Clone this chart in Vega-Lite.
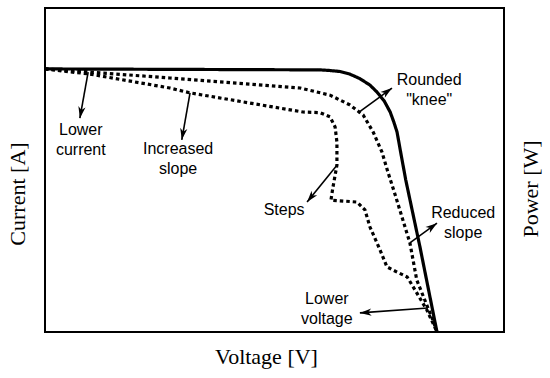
{
  "$schema": "https://vega.github.io/schema/vega-lite/v6.json",
  "width": 459,
  "height": 324,
  "autosize": {"type": "none"},
  "padding": {"left": 45, "top": 8, "right": 46, "bottom": 46},
  "background": "white",
  "config": {
    "view": {"stroke": "black", "strokeWidth": 2},
    "axis": {"domain": false, "ticks": false, "labels": false, "grid": false, "titleFont": "Liberation Serif", "titleFontSize": 22, "titleFontWeight": "normal", "titleColor": "black"}
  },
  "datasets": {
    "curves": [
      {"curve": "ideal", "k": 0, "v": 0, "i": 81.2},
      {"curve": "ideal", "k": 1, "v": 59.9, "i": 80.9},
      {"curve": "ideal", "k": 2, "v": 62.1, "i": 80.7},
      {"curve": "ideal", "k": 3, "v": 64.3, "i": 80.4},
      {"curve": "ideal", "k": 4, "v": 66.4, "i": 79.6},
      {"curve": "ideal", "k": 5, "v": 68.6, "i": 78.2},
      {"curve": "ideal", "k": 6, "v": 70.8, "i": 76.2},
      {"curve": "ideal", "k": 7, "v": 72.3, "i": 74.1},
      {"curve": "ideal", "k": 8, "v": 73.9, "i": 71.3},
      {"curve": "ideal", "k": 9, "v": 75.2, "i": 67.9},
      {"curve": "ideal", "k": 10, "v": 76.0, "i": 64.8},
      {"curve": "ideal", "k": 11, "v": 76.7, "i": 61.7},
      {"curve": "ideal", "k": 12, "v": 77.6, "i": 54.6},
      {"curve": "ideal", "k": 13, "v": 78.6, "i": 46.9},
      {"curve": "ideal", "k": 14, "v": 81.7, "i": 26.2},
      {"curve": "ideal", "k": 15, "v": 85.4, "i": 0},
      {"curve": "shaded", "k": 0, "v": 0, "i": 81.2},
      {"curve": "shaded", "k": 1, "v": 9.8, "i": 80.2},
      {"curve": "shaded", "k": 2, "v": 27.2, "i": 78.4},
      {"curve": "shaded", "k": 3, "v": 55.6, "i": 75.3},
      {"curve": "shaded", "k": 4, "v": 62.1, "i": 73.1},
      {"curve": "shaded", "k": 5, "v": 66.4, "i": 70.1},
      {"curve": "shaded", "k": 6, "v": 69.3, "i": 67.0},
      {"curve": "shaded", "k": 7, "v": 71.5, "i": 61.7},
      {"curve": "shaded", "k": 8, "v": 73.4, "i": 55.6},
      {"curve": "shaded", "k": 9, "v": 74.7, "i": 49.4},
      {"curve": "shaded", "k": 10, "v": 76.3, "i": 42.3},
      {"curve": "shaded", "k": 11, "v": 79.5, "i": 27.5},
      {"curve": "shaded", "k": 12, "v": 81.0, "i": 16.0},
      {"curve": "shaded", "k": 13, "v": 84.5, "i": 3.7},
      {"curve": "shaded", "k": 14, "v": 85.4, "i": 0},
      {"curve": "mismatch", "k": 0, "v": 0, "i": 81.2},
      {"curve": "mismatch", "k": 1, "v": 9.8, "i": 79.6},
      {"curve": "mismatch", "k": 2, "v": 27.2, "i": 75.3},
      {"curve": "mismatch", "k": 3, "v": 31.6, "i": 73.8},
      {"curve": "mismatch", "k": 4, "v": 56.2, "i": 67.9},
      {"curve": "mismatch", "k": 5, "v": 59.9, "i": 67.7},
      {"curve": "mismatch", "k": 6, "v": 62.1, "i": 66.4},
      {"curve": "mismatch", "k": 7, "v": 63.2, "i": 63.3},
      {"curve": "mismatch", "k": 8, "v": 63.6, "i": 58.6},
      {"curve": "mismatch", "k": 9, "v": 63.6, "i": 51.5},
      {"curve": "mismatch", "k": 10, "v": 62.7, "i": 44.4},
      {"curve": "mismatch", "k": 11, "v": 62.3, "i": 40.7},
      {"curve": "mismatch", "k": 12, "v": 68.0, "i": 40.1},
      {"curve": "mismatch", "k": 13, "v": 69.7, "i": 37.7},
      {"curve": "mismatch", "k": 14, "v": 70.8, "i": 32.4},
      {"curve": "mismatch", "k": 15, "v": 73.0, "i": 25.3},
      {"curve": "mismatch", "k": 16, "v": 74.5, "i": 20.1},
      {"curve": "mismatch", "k": 17, "v": 76.7, "i": 18.5},
      {"curve": "mismatch", "k": 18, "v": 78.9, "i": 17.0},
      {"curve": "mismatch", "k": 19, "v": 80.6, "i": 13.0},
      {"curve": "mismatch", "k": 20, "v": 83.2, "i": 6.8},
      {"curve": "mismatch", "k": 21, "v": 85.4, "i": 0}
    ],
    "arrows": [
      {"name": "Lower current", "x1": 9.4, "y1": 80.2, "x2": 7.6, "y2": 66.0},
      {"name": "Increased slope", "x1": 31.6, "y1": 73.8, "x2": 29.8, "y2": 59.3},
      {"name": "Rounded knee", "x1": 68.2, "y1": 67.6, "x2": 75.6, "y2": 75.3},
      {"name": "Steps", "x1": 63.6, "y1": 51.5, "x2": 57.1, "y2": 40.1},
      {"name": "Reduced slope", "x1": 79.5, "y1": 27.5, "x2": 85.4, "y2": 33.6},
      {"name": "Lower voltage", "x1": 83.4, "y1": 7.4, "x2": 68.6, "y2": 5.9}
    ],
    "labels": [
      {"label": "Lower\ncurrent", "tx": 7.8, "ty": 62.3},
      {"label": "Increased\nslope", "tx": 29.0, "ty": 56.6},
      {"label": "Rounded\n\"knee\"", "tx": 83.7, "ty": 77.8},
      {"label": "Steps", "tx": 52.1, "ty": 37.7},
      {"label": "Reduced\nslope", "tx": 91.1, "ty": 36.6},
      {"label": "Lower\nvoltage", "tx": 61.4, "ty": 10.2}
    ]
  },
  "layer": [
    {
      "data": {"name": "curves"},
      "mark": {"type": "line", "strokeWidth": 3.2, "color": "black", "strokeCap": "butt"},
      "encoding": {
        "x": {"field": "v", "type": "quantitative", "scale": {"domain": [0, 100], "nice": false, "zero": false},
              "axis": {"title": "Voltage [V]", "titleX": 221, "titleY": 31, "titleBaseline": "alphabetic", "titleAlign": "center", "titleAnchor": null}},
        "y": {"field": "i", "type": "quantitative", "scale": {"domain": [0, 100], "nice": false},
              "axis": {"title": "Current [A]", "titleAngle": -90, "titleX": -20.5, "titleY": 185.5, "titleBaseline": "alphabetic", "titleAlign": "center", "titleAnchor": null}},
        "strokeDash": {"field": "curve", "type": "nominal", "scale": {"domain": ["ideal", "shaded", "mismatch"], "range": [[1, 0], [3.5, 3], [3.5, 3]]}, "legend": null},
        "detail": {"field": "curve", "type": "nominal"},
        "order": {"field": "k", "type": "quantitative"}
      }
    },
    {
      "data": {"name": "arrows"},
      "mark": {"type": "rule", "strokeWidth": 1.6, "color": "black"},
      "encoding": {
        "x": {"field": "x1", "type": "quantitative"},
        "y": {"field": "y1", "type": "quantitative",
              "axis": {"orient": "right", "title": "Power [W]", "titleAngle": -90, "titleX": 33, "titleY": 180.5, "titleBaseline": "alphabetic", "titleAlign": "center", "titleAnchor": null}},
        "x2": {"field": "x2"},
        "y2": {"field": "y2"}
      }
    },
    {
      "data": {"name": "arrows"},
      "transform": [
        {"calculate": "atan2((datum.x2 - datum.x1) * 4.59, (datum.y2 - datum.y1) * 3.24) * 180 / PI", "as": "ang"}
      ],
      "mark": {"type": "point", "shape": "M0,0 L0.5,1.6 L0,1.15 L-0.5,1.6 Z", "filled": true, "color": "black", "size": 210, "opacity": 1},
      "encoding": {
        "x": {"field": "x2", "type": "quantitative"},
        "y": {"field": "y2", "type": "quantitative", "axis": null},
        "angle": {"field": "ang", "type": "quantitative", "scale": null}
      }
    },
    {
      "data": {"name": "labels"},
      "mark": {"type": "text", "font": "Liberation Sans", "fontSize": 16, "lineBreak": "\n", "lineHeight": 20, "align": "center", "baseline": "middle", "color": "black"},
      "encoding": {
        "x": {"field": "tx", "type": "quantitative"},
        "y": {"field": "ty", "type": "quantitative", "axis": null},
        "text": {"field": "label"}
      }
    }
  ],
  "resolve": {"axis": {"y": "independent"}}
}
